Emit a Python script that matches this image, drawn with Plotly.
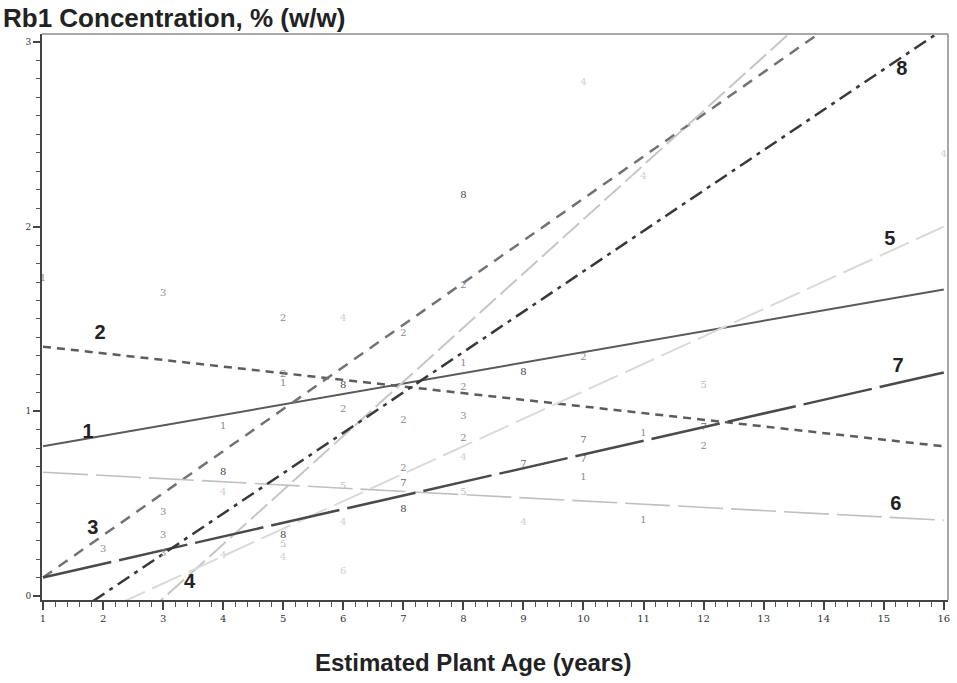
import plotly.graph_objects as go

# ---- data ----
ages = [1, 16]
line_ids = ["1", "2", "3", "4", "5", "6", "7", "8"]
line_y_at_1 = [0.81, 1.35, 0.10, -0.60, -0.23, 0.67, 0.10, -0.21]
line_y_at_16 = [1.66, 0.81, 3.52, 3.80, 2.00, 0.41, 1.21, 3.07]
label_x = [1.75, 1.95, 1.83, 3.44, 15.1, 15.2, 15.24, 15.3]
label_y = [0.88, 1.42, 0.36, 0.07, 1.93, 0.49, 1.24, 2.85]

pt_age = [1, 3, 5, 6, 7, 8, 8, 10, 11, 16,
          5, 5, 6, 8, 8, 9, 10, 12, 4, 6,
          7, 8, 8, 8, 10, 10, 10, 11, 12, 12,
          9, 7, 7, 8, 6, 7, 4, 4, 6, 9,
          11, 6, 3, 3, 3, 2, 4, 5, 5, 5]
pt_conc = [1.72, 1.64, 1.50, 1.50, 1.42, 1.68, 2.17, 2.78, 2.27, 2.39,
           1.20, 1.15, 1.14, 1.26, 1.13, 1.21, 1.29, 1.14, 0.92, 1.01,
           0.95, 0.97, 0.85, 0.75, 0.84, 0.74, 0.64, 0.88, 0.91, 0.81,
           0.71, 0.69, 0.61, 0.56, 0.59, 0.47, 0.67, 0.56, 0.40, 0.40,
           0.41, 0.13, 0.45, 0.33, 0.23, 0.25, 0.22, 0.33, 0.28, 0.21]
pt_plant = ["1", "3", "2", "4", "2", "2", "8", "4", "4", "4",
            "2", "1", "8", "1", "2", "8", "2", "5", "1", "2",
            "2", "3", "2", "4", "7", "7", "1", "1", "7", "2",
            "7", "2", "7", "5", "5", "8", "8", "4", "4", "4",
            "1", "6", "3", "3", "3", "3", "4", "8", "5", "4"]

x_ticks = list(range(1, 17))
y_ticks = [0, 1, 2, 3]

# ---- styles ----
line_color = {"1": "#5a5a5a", "2": "#5c5c5c", "3": "#727272", "4": "#c6c6c6",
              "5": "#dadada", "6": "#c0c0c0", "7": "#4a4a4a", "8": "#383838"}
line_dash = {"1": "solid", "2": "8px,6px", "3": "11px,8px", "4": "22px,6px",
             "5": "32px,8px", "6": "45px,8px", "7": "70px,8px", "8": "14px,6px,4px,6px"}
line_width = {"1": 2, "2": 2.5, "3": 2.5, "4": 2, "5": 2, "6": 1.6, "7": 2.5, "8": 2.5}
pt_color = {"1": "#8a8a8a", "2": "#8a8a8a", "3": "#8f8f8f", "4": "#cfcfcf",
            "5": "#bdbdbd", "6": "#d0d0d0", "7": "#6a6a6a", "8": "#444444"}

fig = go.Figure()

for i, lid in enumerate(line_ids):
    fig.add_trace(go.Scatter(
        x=ages, y=[line_y_at_1[i], line_y_at_16[i]], mode="lines",
        line=dict(color=line_color[lid], dash=line_dash[lid], width=line_width[lid]),
        showlegend=False, hoverinfo="skip"))

fig.add_trace(go.Scatter(
    x=pt_age, y=pt_conc, mode="text", text=pt_plant,
    textfont=dict(family="DejaVu Serif", size=10, color=[pt_color[p] for p in pt_plant]),
    showlegend=False, cliponaxis=False))

fig.add_trace(go.Scatter(
    x=label_x, y=label_y, mode="text", text=["<b>%s</b>" % s for s in line_ids],
    textfont=dict(family="Liberation Sans", size=20, color="#222222"),
    showlegend=False, cliponaxis=False))

fig.update_layout(
    width=957, height=683,
    margin=dict(l=42, r=7, t=34, b=83),
    paper_bgcolor="white", plot_bgcolor="white",
    font=dict(family="Liberation Sans", color="#222222"),
    xaxis=dict(range=[0.983, 16.07], tickvals=x_ticks, ticktext=[str(v) for v in x_ticks],
               showgrid=False, zeroline=False, showline=True, linecolor="#444444", linewidth=2,
               ticks="outside", ticklen=8, tickwidth=1.5, tickcolor="#444444",
               tickfont=dict(family="DejaVu Serif", size=10, color="#333333"),
               minor=dict(dtick=0.2, ticks="outside", ticklen=5, tickcolor="#555555", tickwidth=1)),
    yaxis=dict(range=[-0.022, 3.043], tickvals=y_ticks, ticktext=[str(v) for v in y_ticks],
               showgrid=False, zeroline=False, showline=True, linecolor="#444444", linewidth=2,
               ticks="outside", ticklen=7, tickwidth=1.5, tickcolor="#444444",
               tickfont=dict(family="DejaVu Serif", size=9, color="#333333"),
               minor=dict(dtick=0.1, ticks="outside", ticklen=4, tickcolor="#555555", tickwidth=1)),
    shapes=[
        dict(type="line", xref="paper", yref="paper", x0=0, x1=1, y0=1, y1=1,
             line=dict(color="#a8a8a8", width=2)),
        dict(type="line", xref="paper", yref="paper", x0=1, x1=1, y0=0, y1=1,
             line=dict(color="#8a8a8a", width=1.5)),
    ],
    annotations=[
        dict(text="<b>Rb1 Concentration, % (w/w)</b>", xref="paper", yref="paper",
             x=-0.0455, y=1.0, xanchor="left", yanchor="bottom", yshift=-1, showarrow=False,
             font=dict(family="Liberation Sans", size=26, color="#222222")),
        dict(text="<b>Estimated Plant Age (years)</b>", xref="paper", yref="paper",
             x=0.476, y=0, xanchor="center", yanchor="middle", yshift=-62, showarrow=False,
             font=dict(family="Liberation Sans", size=24, color="#222222")),
    ],
)

fig.write_html("out.html", config={"displayModeBar": False},
               post_script="document.body.style.margin='0px';")
